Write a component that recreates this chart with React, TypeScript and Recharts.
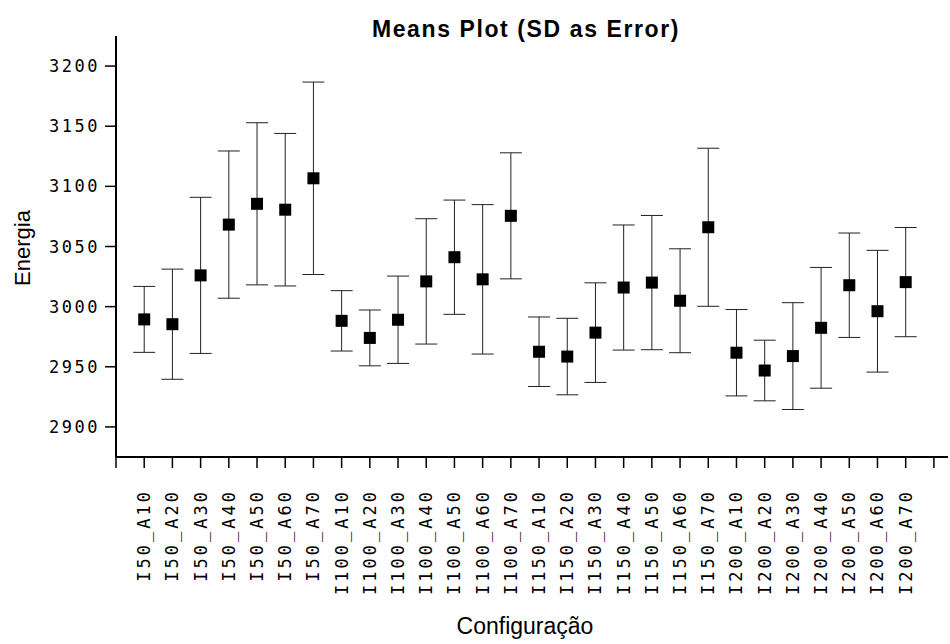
import { ScatterChart, Scatter, XAxis, YAxis, ErrorBar } from "recharts";

// configurations, in plot order
const categories = [
  "I50_A10", "I50_A20", "I50_A30", "I50_A40", "I50_A50", "I50_A60", "I50_A70",
  "I100_A10", "I100_A20", "I100_A30", "I100_A40", "I100_A50", "I100_A60", "I100_A70",
  "I150_A10", "I150_A20", "I150_A30", "I150_A40", "I150_A50", "I150_A60", "I150_A70",
  "I200_A10", "I200_A20", "I200_A30", "I200_A40", "I200_A50", "I200_A60", "I200_A70",
];

const means = [
  2989.4, 2985.4, 3026.0, 3068.2, 3085.5, 3080.6, 3106.7,
  2988.2, 2974.0, 2989.1, 3021.0, 3041.1, 3022.7, 3075.5,
  2962.5, 2958.5, 2978.4, 3015.9, 3020.0, 3004.9, 3066.0,
  2961.7, 2946.9, 2958.9, 2982.4, 3017.8, 2996.2, 3020.4,
];

const sds = [
  27.4, 45.8, 64.9, 61.2, 67.4, 63.4, 80.0,
  25.1, 23.2, 36.3, 52.1, 47.5, 62.1, 52.4,
  28.9, 31.8, 41.4, 52.0, 55.8, 43.2, 65.7,
  35.9, 25.2, 44.4, 50.2, 43.4, 50.6, 45.4,
];

const yTicks = [2900, 2950, 3000, 3050, 3100, 3150, 3200];
const xTicks = Array.from({ length: 30 }, (_, i) => i);

const rows = categories.map((name, i) => ({ idx: i + 1, name, mean: means[i], sd: sds[i] }));

const mono = "'DejaVu Sans Mono', monospace";
const sans = "'Liberation Sans', Arial, sans-serif";

function XTick({ x, y, payload }: any) {
  const label = categories[payload.value - 1] ?? "";
  return (
    <text
      x={x}
      y={y}
      transform={`rotate(-90, ${x}, ${y})`}
      textAnchor="end"
      dominantBaseline="central"
      fontFamily={mono}
      fontSize={17}
      letterSpacing={3}
      fill="#000"
    >
      {label}
    </text>
  );
}

function YTick({ x, y, payload }: any) {
  return (
    <text x={x} y={y} textAnchor="end" dominantBaseline="central" fontFamily={mono} fontSize={17} letterSpacing={2.5} fill="#000">
      {payload.value}
    </text>
  );
}

function Square({ cx, cy }: any) {
  return <rect x={cx - 6} y={cy - 6} width={12} height={12} fill="#000" />;
}

export default function App() {
  return (
    <div style={{ position: "relative", width: 950, height: 644, background: "#fff" }}>
      <style>{`body{margin:0}`}</style>
      <div
        style={{
          position: "absolute", left: 526, top: 16, transform: "translateX(-50%)",
          fontFamily: sans, fontWeight: "bold", fontSize: 23, lineHeight: "26px",
          letterSpacing: 1.6, whiteSpace: "nowrap",
        }}
      >
        Means Plot (SD as Error)
      </div>
      <div
        style={{
          position: "absolute", left: 23, top: 248, transform: "translate(-50%, -50%) rotate(-90deg)",
          fontFamily: sans, fontSize: 22, lineHeight: "24px", whiteSpace: "nowrap",
        }}
      >
        Energia
      </div>
      <div
        style={{
          position: "absolute", left: 525, top: 626, transform: "translate(-50%, -50%)",
          fontFamily: sans, fontSize: 23, lineHeight: "26px", whiteSpace: "nowrap",
        }}
      >
        Configuração
      </div>
      <ScatterChart width={950} height={644} margin={{ top: 36, right: 2, left: 0, bottom: 0 }}>
        <XAxis
          dataKey="idx"
          type="number"
          domain={[0, 29.5]}
          ticks={xTicks}
          interval={0}
          allowDataOverflow
          height={187}
          tickSize={11}
          tickMargin={21}
          tick={<XTick />}
          axisLine={{ stroke: "#000", strokeWidth: 2 }}
          tickLine={{ stroke: "#000", strokeWidth: 1.5 }}
        />
        <YAxis
          dataKey="mean"
          type="number"
          domain={[2875, 3225]}
          ticks={yTicks}
          allowDataOverflow
          width={116}
          tickSize={11}
          tickMargin={5}
          tick={<YTick />}
          axisLine={{ stroke: "#000", strokeWidth: 2 }}
          tickLine={{ stroke: "#000", strokeWidth: 1.5 }}
        />
        <Scatter data={rows} dataKey="mean" shape={<Square />} isAnimationActive={false}>
          <ErrorBar dataKey="sd" direction="y" width={11} stroke="#222" strokeWidth={1} />
        </Scatter>
      </ScatterChart>
    </div>
  );
}
